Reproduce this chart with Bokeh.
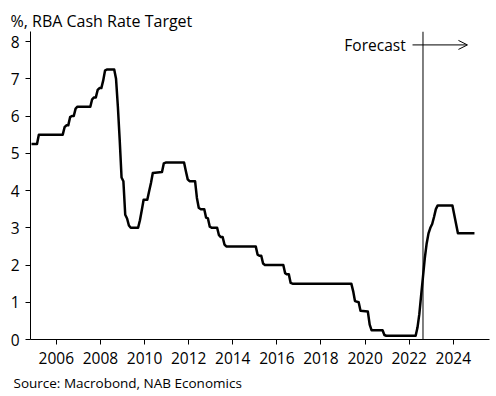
from bokeh.plotting import figure
from bokeh.models import FixedTicker, Label, Arrow, OpenHead, Span, Title, Range1d, ColumnDataSource
from bokeh.embed import file_html
from bokeh.resources import INLINE

# Monthly average RBA cash rate target (vertices where the line changes slope)
months = ["2004-11", "2005-02", "2005-03", "2006-04", "2006-05", "2006-06", "2006-07",
          "2006-08", "2006-09", "2006-10", "2006-11", "2006-12", "2007-07", "2007-08",
          "2007-09", "2007-10", "2007-11", "2007-12", "2008-01", "2008-02", "2008-03",
          "2008-04", "2008-08", "2008-09", "2008-10", "2008-11", "2008-12", "2009-01",
          "2009-02", "2009-03", "2009-04", "2009-05", "2009-09", "2009-10", "2009-11",
          "2009-12", "2010-02", "2010-03", "2010-04", "2010-05", "2010-10", "2010-11",
          "2010-12", "2011-10", "2011-11", "2011-12", "2012-01", "2012-04", "2012-05",
          "2012-06", "2012-07", "2012-09", "2012-10", "2012-11", "2012-12", "2013-01",
          "2013-04", "2013-05", "2013-06", "2013-07", "2013-08", "2013-09", "2015-01",
          "2015-02", "2015-03", "2015-04", "2015-05", "2015-06", "2016-04", "2016-05",
          "2016-06", "2016-07", "2016-08", "2016-09", "2019-05", "2019-06", "2019-07",
          "2019-09", "2019-10", "2020-02", "2020-03", "2020-04", "2020-10", "2020-11",
          "2020-12", "2022-04", "2022-05", "2022-06", "2022-07", "2022-08", "2022-09",
          "2022-10", "2022-11", "2022-12", "2023-01", "2023-02", "2023-03", "2023-04",
          "2023-12", "2024-03", "2024-12"]
rate = [5.25, 5.25, 5.5, 5.5, 5.7, 5.75, 5.75,
        5.97, 6.0, 6.0, 6.2, 6.25, 6.25, 6.45,
        6.5, 6.5, 6.7, 6.75, 6.75, 6.95, 7.22,
        7.25, 7.25, 7.0, 6.25, 5.35, 4.35, 4.25,
        3.35, 3.25, 3.06, 3.0, 3.0, 3.2, 3.47,
        3.75, 3.75, 3.98, 4.2, 4.47, 4.5, 4.73,
        4.75, 4.75, 4.52, 4.3, 4.25, 4.25, 3.8,
        3.54, 3.5, 3.5, 3.27, 3.25, 3.03, 3.0,
        3.0, 2.8, 2.75, 2.75, 2.55, 2.5, 2.5,
        2.28, 2.25, 2.25, 2.04, 2.0, 2.0, 1.78,
        1.75, 1.75, 1.52, 1.5, 1.5, 1.3, 1.03,
        1.0, 0.77, 0.75, 0.4, 0.25, 0.25, 0.12,
        0.1, 0.1, 0.32, 0.68, 1.19, 1.69, 2.19,
        2.58, 2.85, 3.0, 3.1, 3.29, 3.5, 3.6,
        3.6, 2.85, 2.85]
forecast_start = "2022-08"
year_ticks = [2006, 2008, 2010, 2012, 2014, 2016, 2018, 2020, 2022, 2024]
y_ticks = [0, 1, 2, 3, 4, 5, 6, 7, 8]


def to_year(m):
    y, mo = m.split("-")
    return int(y) + (int(mo) - 0.5) / 12.0


FONT = "Open Sans"
src = ColumnDataSource(dict(x=[to_year(m) for m in months], y=rate))

p = figure(width=492, height=396, output_backend="svg", toolbar_location=None,
           x_range=Range1d(2004.83, 2025.64), y_range=Range1d(0, 8.27),
           min_border_left=30, min_border_right=3, min_border_top=31, min_border_bottom=57)
p.outline_line_color = None
p.xgrid.visible = False
p.ygrid.visible = False
p.background_fill_color = "white"
p.border_fill_color = "white"

p.line("x", "y", source=src, line_color="black", line_width=2.5, line_join="round")

fx = to_year(forecast_start)
p.add_layout(Span(location=fx, dimension="height", line_color="black", line_width=1))
p.add_layout(Label(x=2021.84, y=7.91, text="Forecast", text_align="right",
                   text_baseline="middle", text_font=FONT, text_font_size="15.5px",
                   text_color="black"))
p.add_layout(Arrow(x_start=2022.15, y_start=7.91, x_end=2024.64, y_end=7.91,
                   line_color="black", line_width=1,
                   end=OpenHead(size=9, line_color="black", line_width=1)))

for ax in (p.xaxis[0], p.yaxis[0]):
    ax.axis_line_color = "black"
    ax.major_tick_line_color = "black"
    ax.major_tick_in = 0
    ax.major_tick_out = 5
    ax.minor_tick_line_color = None
    ax.major_label_text_font = FONT
    ax.major_label_text_font_size = "15.5px"
    ax.major_label_text_color = "black"
p.xaxis[0].ticker = FixedTicker(ticks=year_ticks)
p.yaxis[0].ticker = FixedTicker(ticks=y_ticks)
p.xaxis[0].major_label_standoff = 7
p.yaxis[0].major_label_standoff = 6

p.add_layout(Title(text="%, RBA Cash Rate Target", align="left", offset=-20,
                   text_font=FONT, text_font_size="16px", text_font_style="normal",
                   text_color="black", standoff=0), "above")
p.add_layout(Title(text="Source: Macrobond, NAB Economics", align="left", offset=-17,
                   text_font=FONT, text_font_size="13.5px", text_font_style="normal",
                   text_color="black", standoff=10), "below")

open("out.html", "w").write(file_html(p, INLINE))
